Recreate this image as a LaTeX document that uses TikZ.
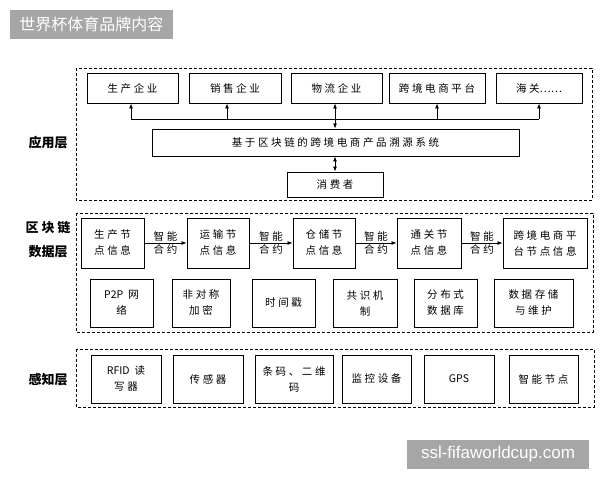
\documentclass[tikz,border=0pt]{standalone}
\usepackage{fontspec}
\setmainfont{Noto Sans CJK SC}
\newfontfamily\cjk[LetterSpace=25]{Noto Sans CJK SC}
\newfontfamily\cjkplain{Noto Sans CJK SC}
\newfontfamily\latinsans{Liberation Sans}
\newcommand{\lat}[1]{{\cjkplain #1}}
\usetikzlibrary{arrows.meta}
\definecolor{bannergray}{RGB}{166,166,166}
\begin{document}
\begin{tikzpicture}[x=1pt,y=-1pt,
    box/.style={draw,line width=0.9pt,inner sep=0pt,align=center,
      font=\cjk\fontsize{10.5}{16}\selectfont},
    layer/.style={draw,line width=1pt,dash pattern=on 3pt off 2pt},
    layerlabel/.style={align=center,font=\bfseries\fontsize{13}{24}\selectfont},
    arr/.style={-{Latex[length=5pt,width=4pt]},line width=0.8pt},
    darr/.style={{Latex[length=5pt,width=4pt]}-{Latex[length=5pt,width=4pt]},line width=0.8pt},
    tag/.style={font=\cjk\fontsize{10.5}{12}\selectfont,inner sep=1pt}]
  \useasboundingbox[fill=white] (0,0) rectangle (600,480);
  % banners
  \node[fill=bannergray,text=white,minimum width=163,minimum height=29,inner sep=0pt,
    font=\fontsize{16}{18}\selectfont] (title) at (91.5,24.5) {世界杯体育品牌内容};
  \node[fill=bannergray,text=white,minimum width=182,minimum height=29,inner sep=0pt,
    font=\latinsans\fontsize{17}{18}\selectfont] (mark) at (498,454.5) {ssl-fifaworldcup.com};
  % application layer
  \draw[layer] (76,68) rectangle (592,200);
  \node[layerlabel] (app) at (48,143) {应用层};
  \node[box,minimum width=91,minimum height=30] (qy1) at (132.5,88) {生产企业};
  \node[box,minimum width=92,minimum height=30] (qy2) at (235,88) {销售企业};
  \node[box,minimum width=91,minimum height=30] (qy3) at (336.5,88) {物流企业};
  \node[box,minimum width=96,minimum height=30] (qy4) at (437,88) {跨境电商平台};
  \node[box,minimum width=86,minimum height=30] (qy5) at (539,88) {海关\lat{……}};
  \node[box,minimum width=367,minimum height=27] (sys) at (335.5,142.5) {基于区块链的跨境电商产品溯源系统};
  \node[box,minimum width=96,minimum height=25] (xfz) at (335,184.5) {消费者};
  \coordinate (b1) at (131,119);
  \coordinate (b2) at (227,119);
  \coordinate (b4) at (437,119);
  \coordinate (b5) at (539,119);
  \draw[line width=0.8pt] (b1) -- (b5);
  \draw[arr] (b1) -- (b1 |- qy1.south);
  \draw[arr] (b2) -- (b2 |- qy2.south);
  \draw[arr] (b4) -- (b4 |- qy4.south);
  \draw[arr] (b5) -- (b5 |- qy5.south);
  \draw[darr] (qy3.south -| xfz.north) -- (sys.north -| xfz.north);
  \draw[darr] (sys.south -| xfz.north) -- (xfz.north);
  % blockchain layer
  \draw[layer] (76,213) rectangle (593,332);
  \node[layerlabel] (chain) at (48,240) {区 块 链\\数据层};
  \node[box,minimum width=63,minimum height=50] (n1) at (112.5,243) {生产节\\点信息};
  \node[box,minimum width=62,minimum height=50] (n2) at (218,243) {运输节\\点信息};
  \node[box,minimum width=62,minimum height=50] (n3) at (324,243) {仓储节\\点信息};
  \node[box,minimum width=64,minimum height=50] (n4) at (429,243) {通关节\\点信息};
  \node[box,minimum width=84,minimum height=50] (n5) at (545,243) {跨境电商平\\台节点信息};
  \foreach \a/\b in {n1/n2,n2/n3,n3/n4,n4/n5}
    \draw[arr] (\a.east) -- node[tag,above]{智能} node[tag,below]{合约} (\b.west);
  \node[box,minimum width=63,minimum height=48] (m1) at (121.5,303) {\lat{P2P} 网\\络};
  \node[box,minimum width=58,minimum height=48] (m2) at (201,303) {非对称\\加密};
  \node[box,minimum width=63,minimum height=48] (m3) at (283.5,303) {时间戳};
  \node[box,minimum width=64,minimum height=48] (m4) at (365,303) {共识机\\制};
  \node[box,minimum width=63,minimum height=48] (m5) at (445.5,303) {分布式\\数据库};
  \node[box,minimum width=79,minimum height=48] (m6) at (533.5,303) {数据存储\\与维护};
  % perception layer
  \draw[layer] (76,349) rectangle (594,407);
  \node[layerlabel] (sense) at (48,380) {感知层};
  \node[box,minimum width=70,minimum height=48] (p1) at (126,379) {\lat{RFID} 读\\写器};
  \node[box,minimum width=70,minimum height=48] (p2) at (208,379) {传感器};
  \node[box,minimum width=78,minimum height=48] (p3) at (294,379) {条码、二维\\码};
  \node[box,minimum width=69,minimum height=48] (p4) at (376.5,379) {监控设备};
  \node[box,minimum width=70,minimum height=48] (p5) at (459,379) {\lat{GPS}};
  \node[box,minimum width=69,minimum height=48] (p6) at (543.5,379) {智能节点};
\end{tikzpicture}
\end{document}
